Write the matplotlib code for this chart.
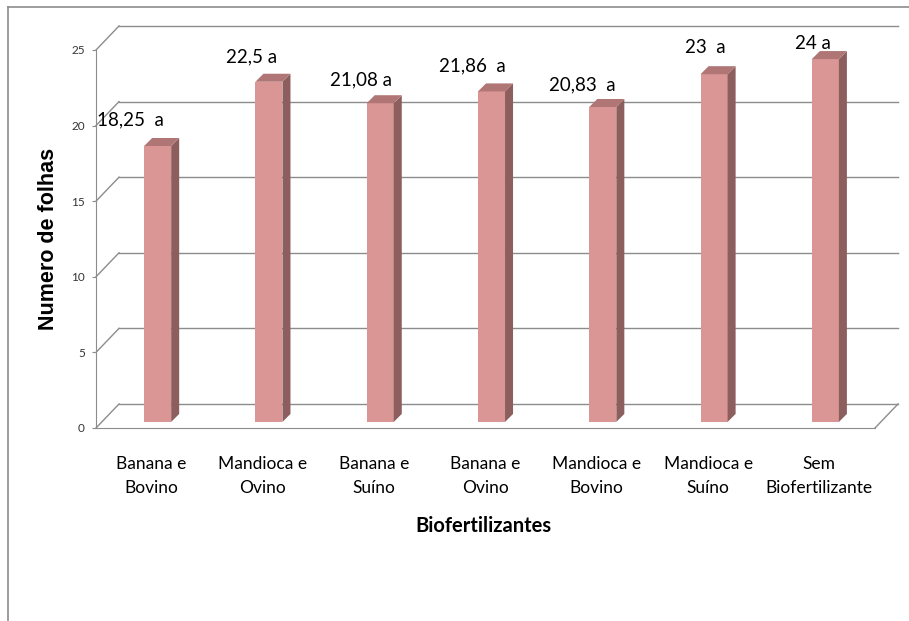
import matplotlib
matplotlib.use("Agg")
import matplotlib.pyplot as plt
from matplotlib.patches import Polygon
from matplotlib.lines import Line2D

# dados do ensaio
tratamentos = ["Banana e\nBovino", "Mandioca e\nOvino", "Banana e\nSuíno",
               "Banana e\nOvino", "Mandioca e\nBovino", "Mandioca e\nSuíno",
               "Sem\nBiofertilizante"]
folhas = [18.25, 22.5, 21.08, 21.86, 20.83, 23, 24]
letras = ["a", "a", "a", "a", "a", "a", "a"]
yticks = [0, 5, 10, 15, 20, 25]

# -----------------------------------------------------------------------------
plt.rcParams['font.family'] = ['Lato', 'DejaVu Sans']
COR_FRENTE = "#D99694"
COR_LADO = "#8C5E5D"
COR_TOPO = "#B07675"
COR_GRADE = "#8C8C8C"
# profundidade das paredes e das barras (unidades de dados)
WX, WY = 0.207, 1.59
BX0, BY0 = 0.054, 0.40
DX, DY = 0.072, 0.53
LARG = 0.243
# deslocamento dos rotulos (pixels) e espaco antes da letra
desloc = [(-27, 26), (-17, 25), (-19, 23), (-19, 26), (-20, 22), (-9, 27), (-12, 16)]
espaco = ["  ", " ", " ", "  ", "  ", "  ", " "]
# -----------------------------------------------------------------------------

fig = plt.figure(figsize=(9.09, 6.21), dpi=100)
fig.patch.set_facecolor("white")
ax = fig.add_axes([96 / 909, 193 / 621, 779 / 909, 378 / 621])
ax.set_xlim(-0.5, 6.5)
ax.set_ylim(0, 25)
ax.patch.set_visible(False)

# borda da area do grafico
fig.add_artist(Line2D([8 / 909, 8 / 909], [0, 614 / 621], color="#8C8C8C", lw=1.2))
fig.add_artist(Line2D([8 / 909, 1], [614 / 621, 614 / 621], color="#8C8C8C", lw=1.2))

# paredes: linhas de grade no fundo e diagonais na lateral
for v in yticks:
    ax.plot([-0.5 + WX, 6.5 + WX], [v + WY, v + WY], color=COR_GRADE, lw=1.0, clip_on=False, zorder=1)
    ax.plot([-0.5, -0.5 + WX], [v, v + WY], color=COR_GRADE, lw=1.0, clip_on=False, zorder=1)
ax.plot([6.5, 6.5 + WX], [0, WY], color=COR_GRADE, lw=1.0, clip_on=False, zorder=1)

# barras 3D
xs = [i + BX0 for i in range(len(folhas))]
ax.bar(xs, folhas, width=LARG, bottom=BY0, color=COR_FRENTE, edgecolor="none", zorder=3)
for x, v in zip(xs, folhas):
    xl, xr = x - LARG / 2, x + LARG / 2
    topo = BY0 + v
    ax.add_patch(Polygon([(xr, BY0), (xr + DX, BY0 + DY), (xr + DX, topo + DY), (xr, topo)],
                         closed=True, facecolor=COR_LADO, edgecolor="none", zorder=3))
    ax.add_patch(Polygon([(xl, topo), (xr, topo), (xr + DX, topo + DY), (xl + DX, topo + DY)],
                         closed=True, facecolor=COR_TOPO, edgecolor="none", zorder=3))

# rotulos de dados
for x, v, l, sep, (dx, dy) in zip(xs, folhas, letras, espaco, desloc):
    num = f"{v:g}".replace(".", ",")
    ax.annotate(f"{num}{sep}{l}", (x, BY0 + v), xytext=(dx, dy), textcoords="offset pixels",
                ha="center", va="center", fontsize=13.5, color="black", zorder=5)

# eixos
for s in ["top", "right"]:
    ax.spines[s].set_visible(False)
ax.spines["left"].set_color(COR_GRADE)
ax.spines["bottom"].set_color(COR_GRADE)
ax.set_yticks(yticks)
ax.set_yticklabels([str(t) for t in yticks], fontsize=8.5, color="#333333")
ax.tick_params(axis="y", direction="out", length=3, color=COR_GRADE, pad=5)
ax.set_xticks(range(len(tratamentos)))
ax.set_xticklabels(tratamentos, fontsize=12.5, linespacing=1.6)
ax.tick_params(axis="x", length=0, pad=20)

ax.set_ylabel("Numero de folhas", fontsize=15.5, fontweight="bold",
              family=["Liberation Sans", "DejaVu Sans"])
ax.yaxis.set_label_coords(-0.048, 0.50)
ax.set_xlabel("Biofertilizantes", fontsize=14.5, fontweight="bold")
ax.xaxis.set_label_coords(0.497, -0.232)

fig.savefig("out.png", dpi=100, facecolor="white")
